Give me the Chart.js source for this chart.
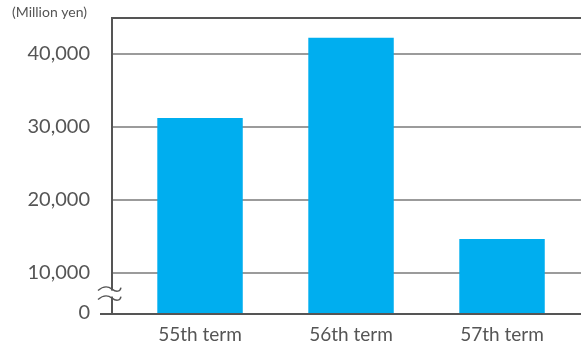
<!DOCTYPE html>
<html>
<head>
<meta charset="utf-8">
<script src="https://cdn.jsdelivr.net/npm/chart.js@4"></script>
<style>
  html, body { margin: 0; padding: 0; background: #fff; }
  #wrap { width: 581px; height: 347px; position: relative; }
</style>
</head>
<body>
<div id="wrap"><canvas id="chart"></canvas></div>
<script>
const unitLabel = '(Million yen)';
const categories = ['55th term', '56th term', '57th term'];
const values = [31300, 42300, 14700];
const yTicks = [0, 10000, 20000, 30000, 40000];

// axis is broken between 0 and 10,000: the "0" sits at breakMin
const breakMin = 4400;
const yMax = 45000;

const axisDark = '#555555';
const gridGray = '#9b9b9b';
const textGray = '#555555';
const barBlue = '#00aeef';

const breakMarks = {
  id: 'breakMarks',
  afterDraw(chart) {
    const { ctx, scales: { y } } = chart;
    const cy = y.getPixelForValue((breakMin + yTicks[1]) / 2);
    const cx = chart.chartArea.left;
    ctx.save();
    ctx.fillStyle = '#fff';
    ctx.fillRect(cx - 3, cy - 3, 6, 6);
    ctx.strokeStyle = axisDark;
    ctx.lineWidth = 1.4;
    [-4.5, 4.5].forEach(dy => {
      const yy = cy + dy;
      ctx.beginPath();
      ctx.moveTo(cx - 14, yy + 1.5);
      ctx.bezierCurveTo(cx - 9, yy - 3, cx - 4, yy - 3, cx, yy);
      ctx.bezierCurveTo(cx + 4, yy + 3, cx + 8, yy + 3, cx + 9, yy - 1.5);
      ctx.stroke();
    });
    ctx.fillStyle = textGray;
    ctx.font = '14px Lato';
    ctx.textAlign = 'left';
    ctx.textBaseline = 'middle';
    ctx.fillText(unitLabel, 12, 12);
    ctx.restore();
  }
};

new Chart(document.getElementById('chart'), {
  type: 'bar',
  data: {
    datasets: [{
      data: values.map((v, i) => ({ x: i, y: v })),
      backgroundColor: barBlue,
      base: breakMin,
      barPercentage: 0.566,
      categoryPercentage: 1
    }]
  },
  options: {
    responsive: true,
    maintainAspectRatio: false,
    animation: false,
    layout: { padding: { top: 18, right: 0, left: 0, bottom: 0 } },
    plugins: { legend: { display: false }, tooltip: { enabled: false } },
    scales: {
      x: {
        type: 'linear',
        offset: false,
        min: -0.583,
        max: 2.523,
        grid: { display: false, offset: false, drawTicks: false },
        border: { display: true, color: axisDark, width: 2 },
        ticks: {
          color: textGray,
          font: { family: 'Lato', size: 19 },
          padding: 9,
          maxRotation: 0,
          callback: v => categories[v] ?? ''
        },
        afterBuildTicks: scale => {
          scale.ticks = categories.map((c, i) => ({ value: i }));
        },
        afterFit: scale => { scale.height = 33; }
      },
      y: {
        min: breakMin,
        max: yMax,
        grid: {
          color: ctx => (ctx.index === 0 || ctx.tick?.value === yMax) ? axisDark : gridGray,
          lineWidth: 2,
          drawTicks: true,
          tickLength: 12,
          tickColor: ctx => ctx.index === 0 ? axisDark : 'rgba(0,0,0,0)',
          tickWidth: 2
        },
        border: { display: true, color: axisDark, width: 2 },
        ticks: {
          color: textGray,
          font: { family: 'Lato', size: 20 },
          padding: 10,
          labelOffset: -1,
          callback: v => v === breakMin ? '0' : (v === yMax ? '' : v.toLocaleString('en-US'))
        },
        afterBuildTicks: scale => {
          scale.ticks = yTicks.map(t => ({ value: t === 0 ? breakMin : t })).concat([{ value: yMax }]);
        },
        afterFit: scale => {
          scale.width = 112;
          scale.paddingTop = 0;
        }
      }
    }
  },
  plugins: [breakMarks]
});
</script>
</body>
</html>
